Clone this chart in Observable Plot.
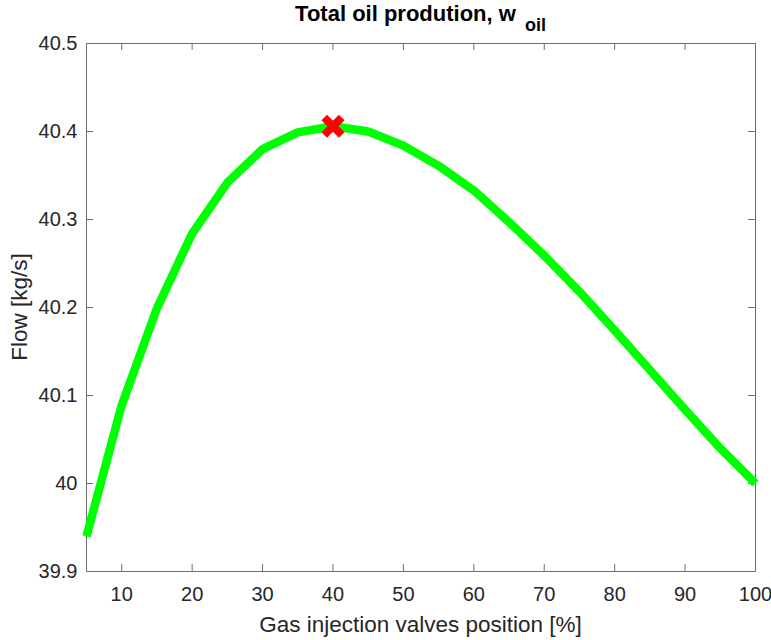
<!DOCTYPE html>
<html>
<head>
<meta charset="utf-8">
<script src="https://cdn.jsdelivr.net/npm/d3@7"></script>
<script src="https://cdn.jsdelivr.net/npm/@observablehq/plot@0.6"></script>
<style>
  html, body { margin: 0; padding: 0; background: #fff; }
  #chart { width: 771px; height: 640px; }
</style>
</head>
<body>
<div id="chart"></div>
<script>
// Data
const valvePosition = [5, 10, 15, 20, 25, 30, 35, 40, 45, 50, 55, 60, 65, 70, 75, 80, 85, 90, 95, 100];
const oilFlow = [39.940, 40.089, 40.199, 40.284, 40.342, 40.380, 40.399, 40.406, 40.400, 40.384,
                 40.361, 40.333, 40.297, 40.259, 40.218, 40.174, 40.129, 40.084, 40.040, 40.000];
const xTicks = [10, 20, 30, 40, 50, 60, 70, 80, 90, 100];
const yTicks = [39.9, 40.0, 40.1, 40.2, 40.3, 40.4, 40.5];
const yTickLabels = ["39.9", "40", "40.1", "40.2", "40.3", "40.4", "40.5"];

const titleMain = "Total oil prodution, w";
const titleSub = "oil";
const xLabel = "Gas injection valves position [%]";
const yLabel = "Flow [kg/s]";

const W = 771, H = 640;
const mL = 86, mR = 16, mT = 43, mB = 69;
const innerW = W - mL - mR, innerH = H - mT - mB;
const tickLen = 7;
const font = "'Liberation Sans', Arial, Helvetica, sans-serif";
const textColor = "#262626";
const axisColor = "#6e6e6e";

const data = valvePosition.map((x, i) => ({x, y: oilFlow[i]}));
let best = 0;
oilFlow.forEach((v, i) => { if (v > oilFlow[best]) best = i; });
const optimum = [{x: valvePosition[best], y: oilFlow[best]}];

const plot = Plot.plot({
  width: W, height: H,
  marginLeft: mL, marginRight: mR, marginTop: mT, marginBottom: mB,
  style: {fontFamily: font, background: "#fff", color: textColor},
  x: {domain: [5, 100]},
  y: {domain: [39.9, 40.5]},
  marks: [
    Plot.frame({stroke: axisColor, strokeWidth: 1}),
    Plot.tickX(xTicks, {x: d => d, stroke: axisColor, insetTop: innerH - tickLen}),
    Plot.tickX(xTicks, {x: d => d, stroke: axisColor, insetBottom: innerH - tickLen}),
    Plot.tickY(yTicks, {y: d => d, stroke: axisColor, insetRight: innerW - tickLen}),
    Plot.tickY(yTicks, {y: d => d, stroke: axisColor, insetLeft: innerW - tickLen}),
    Plot.axisX(xTicks, {tickSize: 0, tickPadding: 15, fontSize: 20, fill: textColor, label: null}),
    Plot.axisY(yTicks, {tickSize: 0, tickPadding: 9, fontSize: 20, fill: textColor, label: null,
      tickFormat: d => yTickLabels[yTicks.indexOf(d)]}),
    Plot.line(data, {x: "x", y: "y", stroke: "#00ff00", strokeWidth: 8.5,
      strokeLinejoin: "miter", strokeLinecap: "butt"}),
    Plot.dot(optimum, {x: "x", y: "y", symbol: "times", stroke: "#ff0000", strokeWidth: 8, r: 8})
  ]
});

const svg = d3.select(plot);
const title = svg.append("text")
  .attr("x", mL + innerW / 2).attr("y", 21)
  .attr("text-anchor", "middle")
  .attr("font-family", font).attr("font-weight", "bold")
  .attr("font-size", 22).attr("fill", "#000");
title.append("tspan").text(titleMain);
title.append("tspan").attr("dx", 9).attr("dy", 10).attr("font-size", 18).text(titleSub);

svg.append("text")
  .attr("x", mL + innerW / 2).attr("y", 632)
  .attr("text-anchor", "middle")
  .attr("font-family", font).attr("font-size", 22.5).attr("fill", textColor)
  .text(xLabel);

svg.append("text")
  .attr("transform", `translate(27,${mT + innerH / 2}) rotate(-90)`)
  .attr("text-anchor", "middle")
  .attr("font-family", font).attr("font-size", 22.5).attr("fill", textColor)
  .text(yLabel);

document.getElementById("chart").appendChild(plot);
</script>
</body>
</html>
